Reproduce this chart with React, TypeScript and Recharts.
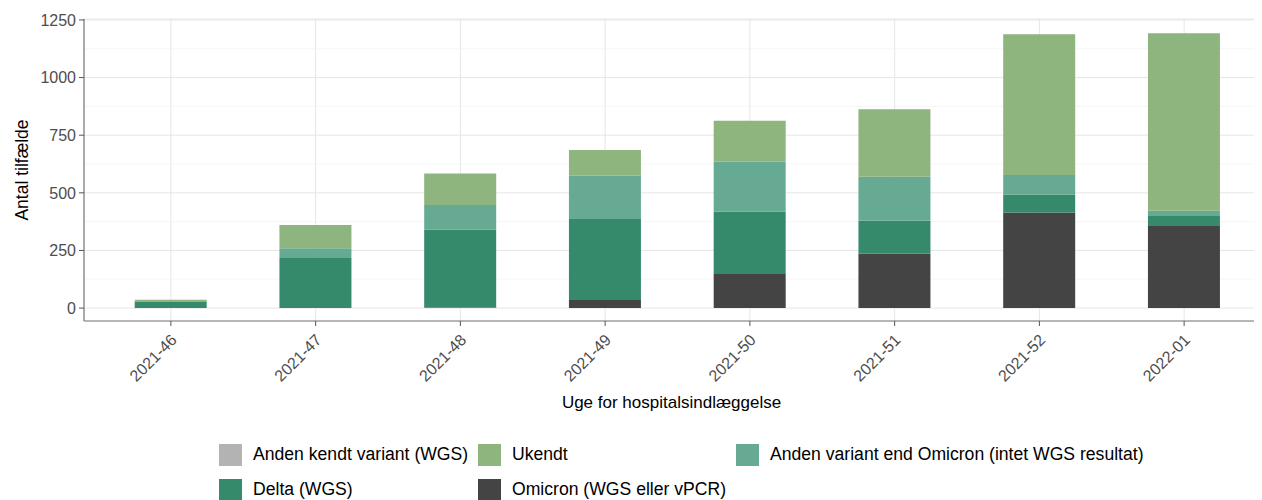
import {
  Bar,
  BarChart,
  CartesianGrid,
  Legend,
  XAxis,
  YAxis,
} from "recharts"

const weeks = [
  "2021-46",
  "2021-47",
  "2021-48",
  "2021-49",
  "2021-50",
  "2021-51",
  "2021-52",
  "2022-01",
]
const omicron = [0, 0, 3, 35, 148, 237, 415, 356]
const delta = [28, 217, 338, 351, 270, 142, 78, 43]
const andenVariant = [3, 43, 106, 188, 217, 191, 84, 23]
const andenKendt = [0, 0, 0, 0, 0, 0, 0, 0]
const ukendt = [5, 100, 137, 112, 178, 292, 611, 770]

const yTicks = [0, 250, 500, 750, 1000, 1250]
const yMinor = [125, 375, 625, 875, 1125]

const series = [
  { key: "omicron", name: "Omicron (WGS eller vPCR)", color: "#444444" },
  { key: "delta", name: "Delta (WGS)", color: "#368a6c" },
  { key: "andenVariant", name: "Anden variant end Omicron (intet WGS resultat)", color: "#67aa93" },
  { key: "andenKendt", name: "Anden kendt variant (WGS)", color: "#b3b3b3" },
  { key: "ukendt", name: "Ukendt", color: "#8db57d" },
]

const data = weeks.map((week, i) => ({
  week,
  omicron: omicron[i],
  delta: delta[i],
  andenVariant: andenVariant[i],
  andenKendt: andenKendt[i],
  ukendt: ukendt[i],
}))

const font = "'Liberation Sans', Arial, sans-serif"
const frame = "#7a7a7a"

const XTick = (props: any) => {
  const { x, y, payload } = props
  return (
    <g transform={`translate(${x + 7},${y + 13})`}>
      <text transform="rotate(-45)" textAnchor="end" fill="#4d4d4d" fontSize={16} fontFamily={font}>
        {payload.value}
      </text>
    </g>
  )
}

const YTitle = (props: any) => {
  const vb = props.viewBox
  const cy = vb.y + vb.height / 2
  return (
    <text
      x={22}
      y={cy}
      transform={`rotate(-90, 22, ${cy})`}
      textAnchor="middle"
      dominantBaseline="central"
      fontSize={17.5}
      fontFamily={font}
      fill="#000"
    >
      Antal tilfælde
    </text>
  )
}

const legendRows = [
  ["andenKendt", "ukendt", "andenVariant"],
  ["delta", "omicron"],
]

const ChartLegend = () => (
  <div style={{ fontFamily: font, fontSize: 17.6, color: "#000" }}>
    {legendRows.map((row, r) => (
      <div key={r} style={{ display: "flex", height: 35, alignItems: "center" }}>
        {row.map((k, c) => {
          const s = series.find((d) => d.key === k)!
          return (
            <div
              key={k}
              style={{ display: "flex", alignItems: "center", flexShrink: 0, width: c === 0 ? 259 : 258 }}
            >
              <span
                style={{ width: 23, height: 22, background: s.color, display: "inline-block", marginRight: 11, flexShrink: 0 }}
              />
              <span style={{ whiteSpace: "nowrap" }}>{s.name}</span>
            </div>
          )
        })}
      </div>
    ))}
  </div>
)

export default function App() {
  return (
    <div style={{ width: 1262, height: 500, overflow: "hidden", margin: "-8px 0 0 -8px", position: "relative" }}>
      <BarChart
        width={1271}
        height={500}
        data={data}
        margin={{ top: 19, right: 0, left: 0, bottom: 84 }}
        barCategoryGap="25%"
      >
        <CartesianGrid horizontal={false} vertical stroke="#e6e6e6" strokeWidth={1} />
        <CartesianGrid
          vertical={false}
          horizontalValues={yMinor}
          stroke="#f2f2f2"
          strokeWidth={0.7}
        />
        <CartesianGrid vertical={false} stroke="#e6e6e6" strokeWidth={1} />
        <XAxis
          dataKey="week"
          padding={{ left: 14.5, right: 14.5 }}
          tick={<XTick />}
          tickSize={5}
          tickMargin={2}
          tickLine={{ stroke: "#555" }}
          axisLine={{ stroke: frame, strokeWidth: 1.2 }}
          interval={0}
          height={95}
          label={{
            value: "Uge for hospitalsindlæggelse",
            position: "insideBottom",
            offset: 8,
            dx: -6,
            fontSize: 17,
            fontFamily: font,
            fill: "#000",
          }}
        />
        <XAxis
          xAxisId="top"
          orientation="top"
          dataKey="week"
          height={0}
          tick={false}
          tickLine={false}
          axisLine={{ stroke: frame, strokeWidth: 1.2 }}
        />
        <YAxis
          type="number"
          domain={[-56, 1254]}
          ticks={yTicks}
          allowDataOverflow
          width={84}
          tickSize={5}
          tickMargin={3}
          tickLine={{ stroke: "#555" }}
          axisLine={{ stroke: frame, strokeWidth: 1.2 }}
          tick={{ fontSize: 16, fill: "#4d4d4d", fontFamily: font }}
          label={<YTitle />}
        />
        {series.map((s) => (
          <Bar
            key={s.key}
            dataKey={s.key}
            name={s.name}
            stackId="a"
            fill={s.color}
            isAnimationActive={false}
          />
        ))}
        <Legend
          layout="vertical"
          align="center"
          verticalAlign="middle"
          content={<ChartLegend />}
          wrapperStyle={{ left: 219, top: 437, width: 1040 }}
        />
      </BarChart>
    </div>
  )
}
